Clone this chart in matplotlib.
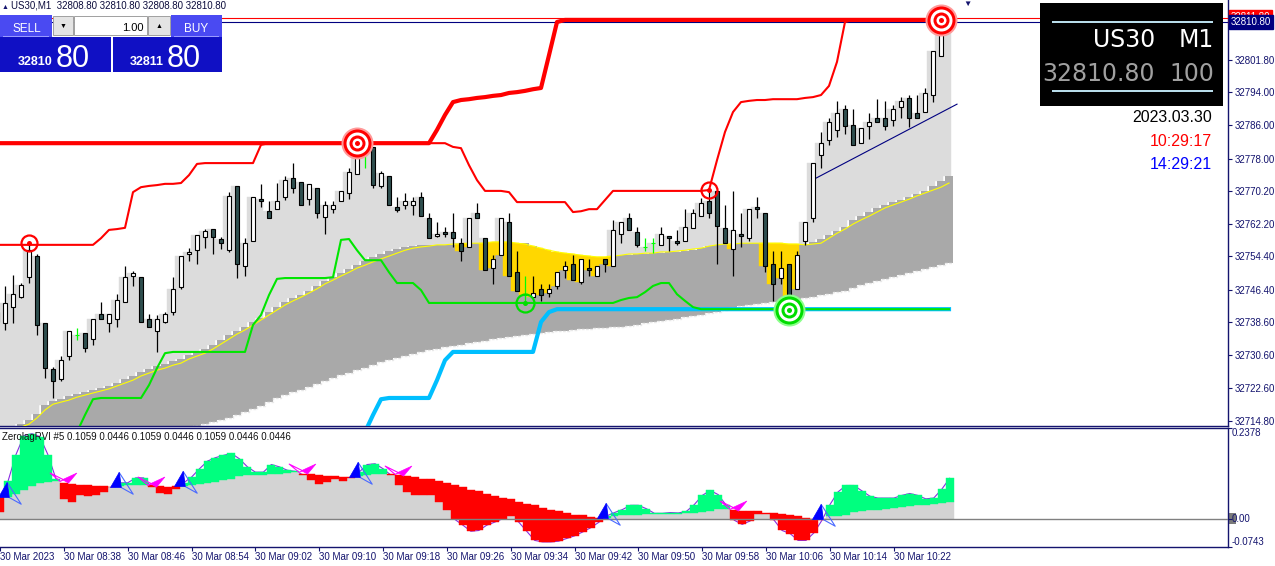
import numpy as np
import matplotlib
matplotlib.use('Agg')
import matplotlib.pyplot as plt
from matplotlib.patches import Rectangle
from matplotlib.path import Path
from matplotlib.markers import MarkerStyle
from matplotlib.transforms import blended_transform_factory

plt.rcParams['font.family'] = ['Liberation Sans', 'DejaVu Sans']

# ---- US30 M1, 30 Mar 2023, one bar per minute from 08:30 to 10:29 ----
time_labels = ['30 Mar 2023', '30 Mar 08:38', '30 Mar 08:46', '30 Mar 08:54', '30 Mar 09:02',
               '30 Mar 09:10', '30 Mar 09:18', '30 Mar 09:26', '30 Mar 09:34', '30 Mar 09:42',
               '30 Mar 09:50', '30 Mar 09:58', '30 Mar 10:06', '30 Mar 10:14', '30 Mar 10:22']
tick_bars = [0, 8, 16, 24, 32, 40, 48, 56, 64, 72, 80, 88, 96, 104, 112]

opens = [
    32741.0, 32738.3, 32742.3, 32744.7, 32749.4, 32754.5, 32738.3, 32727.3, 32724.8, 32730.3,
    32735.5, 32735.9, 32734.5, 32740.6, 32738.3, 32739.3, 32743.4, 32749.8, 32749.4, 32739.3,
    32736.4, 32738.7, 32740.9, 32747.0, 32754.9, 32755.9, 32759.0, 32761.0, 32758.6, 32755.9,
    32771.3, 32752.1, 32758.1, 32768.2, 32765.4, 32765.8, 32768.7, 32773.3, 32772.3, 32768.2,
    32770.8, 32764.0, 32765.8, 32767.7, 32769.6, 32774.2, 32779.6, 32780.7, 32771.3, 32773.7,
    32766.3, 32766.8, 32766.8, 32768.8, 32763.6, 32759.3, 32760.2, 32760.2, 32757.6, 32756.6,
    32764.8, 32758.8, 32751.6, 32754.7, 32762.7, 32750.6, 32745.0, 32744.6, 32746.5, 32745.6,
    32747.2, 32751.1, 32752.5, 32748.2, 32751.6, 32749.6, 32753.7, 32752.1, 32759.8, 32763.6,
    32760.2, 32756.7, 32757.6, 32757.1, 32759.3, 32758.1, 32758.1, 32761.2, 32764.1, 32767.7,
    32770.1, 32761.2, 32756.2, 32759.8, 32758.8, 32766.3, 32764.8, 32752.5, 32749.2, 32752.5,
    32746.5, 32758.1, 32763.6, 32778.8, 32782.5, 32784.9, 32789.9, 32786.2, 32781.7, 32785.8,
    32787.7, 32787.7, 32787.2, 32790.4, 32792.7, 32788.9, 32789.3, 32793.2, 32802.8, 32808.8]
highs = [
    32743.5, 32747.2, 32750.0, 32748.0, 32757.6, 32755.0, 32738.3, 32727.7, 32730.3, 32736.4,
    32737.2, 32735.9, 32739.3, 32743.4, 32740.5, 32745.3, 32752.1, 32751.0, 32749.4, 32740.6,
    32740.3, 32741.1, 32749.4, 32754.5, 32756.4, 32759.5, 32761.1, 32761.0, 32759.0, 32770.0,
    32771.3, 32758.8, 32768.7, 32771.9, 32767.8, 32772.1, 32773.8, 32777.0, 32772.3, 32771.8,
    32770.8, 32767.7, 32767.7, 32770.1, 32775.8, 32781.7, 32780.1, 32780.7, 32775.1, 32773.7,
    32768.8, 32769.6, 32768.7, 32770.0, 32764.8, 32762.7, 32761.6, 32764.8, 32758.8, 32763.6,
    32767.2, 32758.8, 32754.7, 32763.6, 32764.8, 32755.7, 32749.7, 32749.8, 32747.7, 32747.7,
    32750.6, 32753.3, 32754.7, 32753.7, 32753.7, 32752.1, 32753.7, 32763.1, 32762.7, 32764.8,
    32761.6, 32758.8, 32758.8, 32761.6, 32759.3, 32760.7, 32765.8, 32765.8, 32768.4, 32770.4,
    32770.1, 32766.8, 32770.1, 32764.8, 32765.8, 32768.7, 32764.8, 32755.7, 32755.7, 32752.5,
    32755.7, 32762.7, 32776.9, 32784.4, 32787.7, 32791.9, 32790.9, 32789.9, 32785.4, 32788.9,
    32792.4, 32791.9, 32790.9, 32792.9, 32793.3, 32793.3, 32794.9, 32803.9, 32811.4, 32810.8]
lows = [
    32738.0, 32736.7, 32738.3, 32744.3, 32748.0, 32735.4, 32725.1, 32720.3, 32724.3, 32729.5,
    32734.3, 32731.3, 32733.1, 32739.3, 32736.3, 32737.3, 32743.4, 32747.4, 32738.7, 32737.4,
    32731.3, 32738.3, 32740.3, 32746.5, 32753.4, 32752.5, 32756.4, 32754.9, 32756.2, 32755.4,
    32749.1, 32749.6, 32758.1, 32766.3, 32763.6, 32765.8, 32768.0, 32769.6, 32766.8, 32766.8,
    32763.6, 32759.8, 32764.8, 32767.7, 32768.2, 32774.2, 32775.7, 32770.8, 32770.8, 32766.8,
    32765.1, 32765.8, 32764.4, 32764.2, 32758.8, 32759.0, 32759.2, 32756.6, 32753.2, 32756.6,
    32763.6, 32751.1, 32747.7, 32754.7, 32749.6, 32746.0, 32743.2, 32744.6, 32743.6, 32744.6,
    32746.5, 32749.2, 32748.7, 32747.7, 32749.6, 32749.6, 32750.6, 32752.1, 32757.6, 32760.7,
    32756.6, 32755.7, 32755.2, 32757.1, 32755.7, 32757.1, 32758.1, 32761.2, 32764.1, 32763.6,
    32752.5, 32757.6, 32749.6, 32756.6, 32758.1, 32763.6, 32750.6, 32743.6, 32747.7, 32741.5,
    32746.5, 32757.1, 32762.7, 32775.6, 32781.2, 32783.3, 32783.8, 32781.2, 32781.7, 32782.8,
    32786.7, 32784.9, 32785.8, 32787.7, 32785.7, 32787.7, 32789.3, 32791.7, 32802.8, 32808.8]
closes = [
    32738.5, 32743.1, 32745.3, 32747.6, 32756.0, 32737.8, 32727.6, 32724.4, 32729.5, 32736.4,
    32735.5, 32732.3, 32739.3, 32739.3, 32740.5, 32743.9, 32749.4, 32750.4, 32738.7, 32737.4,
    32739.3, 32740.5, 32746.5, 32754.5, 32755.4, 32759.5, 32760.5, 32759.0, 32757.6, 32768.9,
    32752.5, 32757.6, 32768.7, 32767.7, 32763.6, 32767.7, 32772.8, 32770.8, 32766.8, 32771.8,
    32764.8, 32766.8, 32766.8, 32770.1, 32774.7, 32780.2, 32779.6, 32771.7, 32774.6, 32766.8,
    32765.6, 32767.7, 32767.7, 32764.2, 32758.8, 32759.8, 32759.8, 32758.8, 32755.7, 32763.6,
    32763.6, 32751.1, 32753.7, 32763.6, 32749.6, 32746.0, 32745.0, 32745.6, 32745.1, 32746.5,
    32750.6, 32752.1, 32748.7, 32753.7, 32751.1, 32752.1, 32752.5, 32760.7, 32762.7, 32760.7,
    32757.1, 32756.7, 32757.6, 32759.8, 32758.8, 32757.6, 32761.6, 32764.8, 32767.2, 32764.8,
    32761.7, 32757.6, 32760.7, 32759.3, 32765.8, 32765.8, 32752.1, 32747.7, 32751.6, 32744.6,
    32754.7, 32762.7, 32776.9, 32781.7, 32786.7, 32788.9, 32785.8, 32781.2, 32785.4, 32786.7,
    32786.7, 32785.8, 32789.9, 32791.9, 32787.7, 32787.7, 32793.7, 32803.9, 32807.9, 32810.8]

# stepped cloud: upper edge, lower edge, and the yellow average
band_top = [
    32710.2, 32710.2, 32710.2, 32714.0, 32715.0, 32716.4, 32718.6, 32719.6, 32720.0, 32720.8,
    32721.2, 32721.7, 32722.2, 32722.7, 32723.2, 32723.9, 32724.9, 32725.6, 32726.5, 32727.3,
    32728.0, 32728.5, 32729.2, 32729.7, 32730.6, 32731.4, 32732.1, 32733.1, 32734.3, 32735.5,
    32736.4, 32737.4, 32738.6, 32739.6, 32741.0, 32742.2, 32743.4, 32744.4, 32745.1, 32746.1,
    32747.3, 32748.5, 32749.4, 32750.4, 32751.4, 32752.3, 32753.3, 32754.3, 32755.0, 32755.7,
    32756.2, 32756.7, 32756.9, 32757.2, 32757.2, 32757.2, 32757.2, 32757.2, 32757.2, 32757.6,
    32757.6, 32757.6, 32757.6, 32757.6, 32757.6, 32757.6, 32757.6, 32756.9, 32756.2, 32755.5,
    32755.0, 32754.7, 32754.5, 32754.3, 32754.3, 32754.3, 32754.3, 32754.5, 32754.7, 32754.7,
    32755.0, 32755.0, 32755.2, 32755.2, 32755.5, 32755.5, 32755.7, 32755.9, 32756.4, 32756.9,
    32757.2, 32757.4, 32757.4, 32757.6, 32757.6, 32757.6, 32757.6, 32757.6, 32757.4, 32757.4,
    32757.2, 32757.2, 32757.9, 32758.6, 32759.6, 32760.5, 32761.5, 32763.2, 32764.1, 32765.1,
    32766.1, 32766.8, 32767.5, 32768.0, 32768.7, 32769.4, 32770.2, 32771.4, 32772.6, 32773.8]
band_bot = [
    32694.5, 32695.2, 32695.9, 32696.7, 32697.4, 32698.1, 32698.8, 32699.6, 32700.3, 32701.0,
    32701.7, 32702.4, 32703.4, 32704.1, 32705.1, 32705.8, 32706.5, 32707.3, 32708.0, 32709.0,
    32709.7, 32710.4, 32711.1, 32712.1, 32712.8, 32713.5, 32714.0, 32714.5, 32715.0, 32715.5,
    32716.2, 32716.9, 32717.6, 32718.4, 32719.3, 32720.3, 32721.0, 32721.7, 32722.2, 32722.9,
    32723.7, 32724.4, 32725.1, 32725.8, 32726.3, 32727.0, 32727.5, 32728.2, 32729.0, 32729.4,
    32729.9, 32730.4, 32730.9, 32731.4, 32731.8, 32732.1, 32732.6, 32732.8, 32733.1, 32733.5,
    32733.8, 32734.0, 32734.5, 32734.7, 32735.0, 32735.2, 32735.5, 32735.7, 32735.9, 32736.2,
    32736.4, 32736.4, 32736.7, 32736.9, 32736.9, 32737.2, 32737.2, 32737.4, 32737.4, 32737.6,
    32737.9, 32738.4, 32738.6, 32738.8, 32739.1, 32739.3, 32739.8, 32740.0, 32740.3, 32740.8,
    32741.0, 32741.5, 32742.0, 32742.5, 32742.7, 32742.9, 32743.2, 32743.4, 32743.7, 32743.9,
    32744.1, 32744.4, 32744.6, 32745.1, 32745.3, 32745.8, 32746.1, 32746.8, 32747.5, 32748.0,
    32748.5, 32749.0, 32749.4, 32749.9, 32750.4, 32750.9, 32751.4, 32751.9, 32752.3, 32752.8]
yellow_ma = [
    32710.2, 32710.2, 32710.2, 32713.3, 32714.0, 32715.5, 32717.4, 32718.8, 32719.3, 32719.8,
    32720.5, 32721.0, 32721.5, 32722.0, 32722.5, 32723.2, 32723.9, 32724.6, 32725.6, 32726.3,
    32727.0, 32727.5, 32728.2, 32728.7, 32729.7, 32730.4, 32731.1, 32732.1, 32733.3, 32734.5,
    32735.7, 32736.7, 32737.9, 32739.1, 32740.3, 32741.5, 32742.7, 32743.7, 32744.6, 32745.6,
    32746.6, 32747.8, 32748.7, 32749.7, 32750.6, 32751.6, 32752.3, 32753.1, 32753.8, 32754.5,
    32755.2, 32755.9, 32756.4, 32756.7, 32756.9, 32757.2, 32757.2, 32757.4, 32757.4, 32757.6,
    32757.6, 32757.6, 32757.9, 32757.9, 32757.9, 32757.6, 32757.4, 32756.9, 32756.4, 32755.9,
    32755.5, 32755.2, 32755.0, 32754.7, 32754.5, 32754.3, 32754.3, 32754.5, 32754.7, 32755.0,
    32755.0, 32755.2, 32755.2, 32755.5, 32755.5, 32755.7, 32755.9, 32756.2, 32756.4, 32756.9,
    32757.2, 32757.4, 32757.4, 32757.6, 32757.6, 32757.6, 32757.6, 32757.6, 32757.6, 32757.4,
    32757.4, 32757.2, 32757.4, 32757.6, 32758.8, 32760.0, 32761.0, 32762.2, 32763.2, 32764.1,
    32765.1, 32766.1, 32766.8, 32767.5, 32768.2, 32769.0, 32769.7, 32770.4, 32771.1, 32772.1]

# channel lines
red_long = [
    32781.7, 32781.7, 32781.7, 32781.7, 32781.7, 32781.7, 32781.7, 32781.7, 32781.7, 32781.7,
    32781.7, 32781.7, 32781.7, 32781.7, 32781.7, 32781.7, 32781.7, 32781.7, 32781.7, 32781.7,
    32781.7, 32781.7, 32781.7, 32781.7, 32781.7, 32781.7, 32781.7, 32781.7, 32781.7, 32781.7,
    32781.7, 32781.7, 32781.7, 32781.7, 32781.7, 32781.7, 32781.7, 32781.7, 32781.7, 32781.7,
    32781.7, 32781.7, 32781.7, 32781.7, 32781.7, 32781.7, 32781.7, 32781.7, 32781.7, 32781.7,
    32781.7, 32781.7, 32781.7, 32781.7, 32781.7, 32784.9, 32788.5, 32791.6, 32792.1, 32792.3,
    32792.6, 32792.8, 32793.1, 32793.3, 32793.8, 32794.0, 32794.3, 32794.7, 32795.0, 32802.9,
    32810.9, 32811.4, 32811.4, 32811.4, 32811.4, 32811.4, 32811.4, 32811.4, 32811.4, 32811.4,
    32811.4, 32811.4, 32811.4, 32811.4, 32811.4, 32811.4, 32811.4, 32811.4, 32811.4, 32811.4,
    32811.4, 32811.4, 32811.4, 32811.4, 32811.4, 32811.4, 32811.4, 32811.4, 32811.4, 32811.4,
    32811.4, 32811.4, 32811.4, 32811.4, 32811.4, 32811.4, 32811.4, 32811.4, 32811.4, 32811.4,
    32811.4, 32811.4, 32811.4, 32811.4, 32811.4, 32811.4, 32811.4, 32811.4, 32811.4, 32811.4]
red_short = [
    32757.2, 32757.2, 32757.2, 32757.2, 32757.2, 32757.2, 32757.2, 32757.2, 32757.2, 32757.2,
    32757.2, 32757.2, 32757.2, 32758.8, 32760.8, 32761.0, 32761.3, 32769.9, 32771.1, 32771.4,
    32771.6, 32771.9, 32771.9, 32772.1, 32774.0, 32776.7, 32776.9, 32776.9, 32776.9, 32776.9,
    32776.9, 32776.9, 32776.9, 32781.3, 32781.7, 32781.7, 32781.7, 32781.7, 32781.7, 32781.7,
    32781.7, 32781.7, 32781.7, 32781.7, 32781.7, 32781.7, 32781.7, 32781.7, 32781.7, 32781.7,
    32781.7, 32781.7, 32781.7, 32781.7, 32781.7, 32781.7, 32781.7, 32780.8, 32780.5, 32776.4,
    32772.8, 32770.2, 32770.2, 32770.2, 32769.9, 32767.5, 32767.5, 32767.5, 32767.5, 32767.5,
    32767.5, 32767.5, 32765.1, 32765.3, 32765.8, 32765.8, 32768.0, 32770.2, 32770.2, 32770.2,
    32770.2, 32770.2, 32770.2, 32770.2, 32770.2, 32770.2, 32770.2, 32770.2, 32770.2, 32770.4,
    32777.6, 32784.4, 32789.2, 32791.6, 32791.9, 32792.1, 32792.1, 32792.3, 32792.3, 32792.3,
    32792.3, 32792.6, 32792.8, 32793.3, 32795.5, 32801.3, 32810.9, 32811.4, 32811.4, 32811.4,
    32811.4, 32811.4, 32811.4, 32811.4, 32811.4, 32811.4, 32811.4, 32811.4, 32811.4, 32811.4]
green_low = [
    32705.0, 32705.0, 32705.0, 32705.0, 32705.0, 32705.0, 32705.0, 32705.0, 32705.0, 32705.0,
    32712.1, 32716.2, 32720.0, 32720.3, 32720.3, 32720.3, 32720.3, 32720.3, 32720.3, 32723.4,
    32727.5, 32731.1, 32731.4, 32731.4, 32731.4, 32731.4, 32731.4, 32731.4, 32731.4, 32731.4,
    32731.4, 32731.4, 32737.9, 32740.3, 32745.1, 32749.0, 32749.2, 32749.2, 32749.2, 32749.2,
    32749.2, 32749.2, 32749.4, 32758.4, 32758.6, 32755.9, 32753.5, 32753.5, 32753.5, 32750.6,
    32748.0, 32748.0, 32748.0, 32746.3, 32743.2, 32743.2, 32743.2, 32743.2, 32743.2, 32743.2,
    32743.2, 32743.2, 32743.2, 32743.2, 32743.2, 32743.2, 32743.2, 32743.2, 32743.2, 32743.2,
    32743.2, 32743.2, 32743.2, 32743.2, 32743.2, 32743.2, 32743.2, 32743.2, 32743.9, 32744.4,
    32744.6, 32745.8, 32747.3, 32748.0, 32748.0, 32745.3, 32743.7, 32742.2, 32741.7, 32741.7,
    32741.7, 32741.7, 32741.7, 32741.7, 32741.7, 32741.7, 32741.7, 32741.7, 32741.7, 32741.7,
    32741.7, 32741.7, 32741.7, 32741.7, 32741.7, 32741.7, 32741.7, 32741.7, 32741.7, 32741.7,
    32741.7, 32741.7, 32741.7, 32741.7, 32741.7, 32741.7, 32741.7, 32741.7, 32741.7, 32741.7]
blue_low = [
    32705.0, 32705.0, 32705.0, 32705.0, 32705.0, 32705.0, 32705.0, 32705.0, 32705.0, 32705.0,
    32705.0, 32705.0, 32705.0, 32705.0, 32705.0, 32705.0, 32705.0, 32705.0, 32705.0, 32705.0,
    32705.0, 32705.0, 32705.0, 32705.0, 32705.0, 32705.0, 32705.0, 32705.0, 32705.0, 32705.0,
    32705.0, 32705.0, 32705.0, 32705.0, 32705.0, 32705.0, 32705.0, 32705.0, 32705.0, 32705.0,
    32705.0, 32705.0, 32705.0, 32705.0, 32705.0, 32705.0, 32712.1, 32716.2, 32720.0, 32720.3,
    32720.3, 32720.3, 32720.3, 32720.3, 32720.3, 32724.6, 32729.4, 32731.4, 32731.4, 32731.4,
    32731.4, 32731.4, 32731.4, 32731.4, 32731.4, 32731.4, 32731.4, 32731.4, 32738.6, 32741.0,
    32741.7, 32741.7, 32741.7, 32741.7, 32741.7, 32741.7, 32741.7, 32741.7, 32741.7, 32741.7,
    32741.7, 32741.7, 32741.7, 32741.7, 32741.7, 32741.7, 32741.7, 32741.7, 32741.7, 32741.7,
    32741.7, 32741.7, 32741.7, 32741.7, 32741.7, 32741.7, 32741.7, 32741.7, 32741.7, 32741.7,
    32741.7, 32741.7, 32741.7, 32741.7, 32741.7, 32741.7, 32741.7, 32741.7, 32741.7, 32741.7,
    32741.7, 32741.7, 32741.7, 32741.7, 32741.7, 32741.7, 32741.7, 32741.7, 32741.7, 32741.7]

# drawn trend line (bar, price) and bid / ask
trend_bars = [102.4, 120.0]
trend_prices = [32773.3, 32791.1]
bid, ask = 32810.80, 32811.80
price_ticks = [32714.8, 32722.6, 32730.6, 32738.6, 32746.4, 32754.4, 32762.2,
               32770.2, 32778.0, 32786.0, 32794.0, 32801.8]

# signal targets: bar indices (red on highs, green on lows)
red_big, red_small = [45, 118], [4, 89]
green_big, green_small = [99], [66]

# ZerolagRVI subwindow
rvi = [
    0.017, 0.098, 0.168, 0.218, 0.223, 0.215, 0.168, 0.105, 0.052, 0.044,
    0.061, 0.059, 0.063, 0.070, 0.082, 0.094, 0.094, 0.107, 0.107, 0.083,
    0.067, 0.064, 0.079, 0.094, 0.109, 0.131, 0.151, 0.160, 0.166, 0.171,
    0.157, 0.136, 0.122, 0.122, 0.142, 0.136, 0.127, 0.124, 0.115, 0.101,
    0.092, 0.096, 0.105, 0.099, 0.107, 0.122, 0.142, 0.144, 0.131, 0.114,
    0.089, 0.070, 0.061, 0.061, 0.061, 0.044, 0.022, -0.002, -0.017, -0.033,
    -0.031, -0.017, -0.009, 0.000, 0.007, -0.009, -0.033, -0.057, -0.061, -0.061,
    -0.059, -0.052, -0.045, -0.035, -0.024, -0.010, 0.007, 0.016, 0.024, 0.035,
    0.035, 0.026, 0.014, 0.014, 0.016, 0.015, 0.019, 0.037, 0.061, 0.074,
    0.063, 0.035, -0.004, -0.015, -0.006, 0.013, 0.013, -0.004, -0.031, -0.039,
    -0.057, -0.057, -0.037, -0.004, 0.037, 0.070, 0.087, 0.087, 0.073, 0.059,
    0.054, 0.054, 0.054, 0.061, 0.066, 0.061, 0.052, 0.054, 0.077, 0.1059]
signal = [
    0.057, 0.057, 0.064, 0.074, 0.085, 0.094, 0.096, 0.098, 0.094, 0.092,
    0.089, 0.087, 0.086, 0.085, 0.084, 0.086, 0.087, 0.087, 0.087, 0.087,
    0.086, 0.084, 0.085, 0.085, 0.089, 0.092, 0.094, 0.096, 0.101, 0.105,
    0.111, 0.114, 0.115, 0.115, 0.116, 0.118, 0.120, 0.122, 0.118, 0.116,
    0.114, 0.112, 0.112, 0.109, 0.109, 0.111, 0.114, 0.116, 0.118, 0.117,
    0.114, 0.111, 0.109, 0.105, 0.105, 0.098, 0.094, 0.089, 0.083, 0.074,
    0.072, 0.066, 0.059, 0.054, 0.051, 0.045, 0.039, 0.035, 0.028, 0.024,
    0.019, 0.016, 0.010, 0.009, 0.004, 0.003, 0.003, 0.007, 0.010, 0.010,
    0.010, 0.012, 0.012, 0.012, 0.013, 0.013, 0.015, 0.016, 0.017, 0.021,
    0.026, 0.026, 0.022, 0.021, 0.019, 0.019, 0.016, 0.016, 0.013, 0.010,
    0.007, 0.002, 0.000, 0.000, 0.007, 0.007, 0.010, 0.017, 0.019, 0.022,
    0.024, 0.026, 0.028, 0.031, 0.033, 0.035, 0.037, 0.038, 0.041, 0.0446]
cross_up = [0, 14, 22, 44, 75, 102]
cross_down = [7, 18, 37, 49, 91]

W, H = 1275, 566
NAVY = '#14146e'

bars = np.arange(len(opens))
o, h, l, c = (np.array(v) for v in (opens, highs, lows, closes))
b_top, b_bot, ma = np.array(band_top), np.array(band_bot), np.array(yellow_ma)
r, s = np.array(rvi), np.array(signal)

fig = plt.figure(figsize=(W / 100, H / 100), dpi=100)
fig.patch.set_facecolor('white')
ax = fig.add_axes([0, 1 - 425.5 / H, 1228 / W, 425.5 / H])
sub = fig.add_axes([0, 1 - 547 / H, 1228 / W, 119 / H])

top = np.maximum(o, c)
bot = np.minimum(o, c)

# light grey histogram from candle body down to the cloud
m = top > b_top
ax.bar(bars[m] - 0.2, (top - b_top)[m], bottom=b_top[m], width=1.0, color='#dcdcdc',
       ec='#dcdcdc', lw=0.3, zorder=1)
# dark cloud as one stepped polygon (no seams between bars)
xe = np.column_stack([bars - 0.5, bars + 0.5]).ravel()
ax.fill_between(xe, np.repeat(b_bot, 2), np.repeat(b_top, 2), color='#a9a9a9', lw=0, zorder=2)
ax.plot(xe, np.repeat(b_bot, 2), color='#e8e8e8', lw=1, ls=(0, (2, 1)), zorder=2.1)
# gold where price sits under the average
g = bot < ma
ax.bar(bars[g] - 0.2, (ma - bot)[g], bottom=bot[g], width=1.0, color='#ffd700',
       ec='#ffd700', lw=0.3, zorder=3)
ax.plot(bars, ma, color='#ffff00', lw=0.8, zorder=3.5)

ax.axhline(ask, color='#ff0000', lw=0.8, zorder=3.6)
ax.axhline(bid, color='#000080', lw=0.8, zorder=3.6)
ax.plot(bars, blue_low, color='#00bfff', lw=3.0, zorder=4)
ax.plot(bars, green_low, color='#00e600', lw=1.5, zorder=4)
ax.plot(bars, red_short, color='#ff0000', lw=1.5, zorder=4)
ax.plot(bars, red_long, color='#ff0000', lw=3.0, zorder=4)
ax.plot(trend_bars, trend_prices, color='#000080', lw=0.8, zorder=4)

# candles
doji = o == c
bull = c > o
wick_cols = ['#00ff00' if d else 'black' for d in doji]
ax.vlines(bars, l, h, colors=wick_cols, lw=0.9, zorder=5)
body_cols = np.where(bull, 'white', '#2f4f4f')
nd = ~doji
ax.bar(bars[nd], np.abs(c - o)[nd], bottom=bot[nd], width=0.62, color=list(body_cols[nd]),
       edgecolor='black', lw=0.8, zorder=6)
ax.hlines(o[doji], bars[doji] - 0.3, bars[doji] + 0.3, colors='#00ff00', lw=0.8, zorder=6)


def target(x, y, col, halo, sizes):
    ax.plot(x, y, 'o', ms=sizes[0] * 0.72, mfc=halo, mec='none', zorder=7)
    for k, d in enumerate(sizes[1:]):
        ax.plot(x, y, 'o', ms=d * 0.72, mfc=col if k % 2 == 0 else 'white', mec='none', zorder=7)


def ring(x, y, col, d):
    ax.plot(x, y, 'o', ms=d * 0.72, mfc='none', mec=col, mew=1.6, zorder=7)
    ax.plot(x, y, 'o', ms=5 * 0.72, mfc=col, mec='none', zorder=7)


for i in red_big:
    target(i, h[i], '#ff0000', '#ff9a9a', [32, 28, 22, 16, 10, 5])
for i in red_small:
    ring(i, h[i], '#ff0000', 16)
for i in green_big:
    target(i, l[i], '#00dd00', '#8cff8c', [32, 28, 22, 16, 10, 5])
for i in green_small:
    ring(i, l[i], '#00dd00', 18)

ax.set_xlim(0.375, 153.875)
ax.set_ylim(32713.67, 32816.2)
ax.yaxis.tick_right()
ax.set_yticks(price_ticks)
ax.set_yticklabels([f'{v:.2f}' for v in price_ticks])
ax.tick_params(axis='y', direction='out', length=3, width=0.8, color=NAVY, labelcolor=NAVY,
               labelsize=7, pad=1.5)
ax.set_xticks([])
for sp in ['left', 'top']:
    ax.spines[sp].set_visible(False)
for sp in ['right', 'bottom']:
    ax.spines[sp].set_color(NAVY)
    ax.spines[sp].set_linewidth(1.0)

tr = blended_transform_factory(ax.transAxes, ax.transData)
ax.text(1231 / 1228, ask + 0.4, f'{ask:.2f}', transform=tr, ha='left', va='center', fontsize=7,
        color='white', bbox=dict(boxstyle='square,pad=0.2', fc='#ff0000', ec='#ff0000'), zorder=8)
ax.text(1231 / 1228, bid, f'{bid:.2f}', transform=tr, ha='left', va='center', fontsize=7,
        color='white', bbox=dict(boxstyle='square,pad=0.2', fc='#000080', ec='#000080'), zorder=9)

# ---- subwindow ----
lo = np.minimum(r, s)
gm = lo > 0
sub.bar(bars[gm], lo[gm], width=1.0, color='#d3d3d3', ec='#d3d3d3', lw=0.3, zorder=2)
up = r > s
sub.bar(bars[up], (r - s)[up], bottom=s[up], width=1.0, color='#00ff7f', ec='#00ff7f', lw=0.3, zorder=2)
dn = r < s
sub.bar(bars[dn], (s - r)[dn], bottom=r[dn], width=1.0, color='#ff0000', ec='#ff0000', lw=0.3, zorder=2)
sub.plot(bars, r, color='#8a2be2', lw=0.8, zorder=1)
sub.axhline(0, color='#808080', lw=1.0, zorder=3)


def dart(verts):
    codes = [Path.MOVETO] + [Path.LINETO] * (len(verts) - 1) + [Path.CLOSEPOLY]
    p = Path(list(verts) + [verts[0]], codes)
    size = 2 * np.max(np.abs(verts)) * 0.72
    return MarkerStyle(p), size


up_fill, up_fill_ms = dart([(6.7, 15), (-2, 0), (8.7, 0)])
up_line, up_line_ms = dart([(6.7, 15), (20.7, -6.7), (8.7, 0)])
dn_fill, dn_fill_ms = dart([(6, 1.8), (20.3, 8.4), (12, -1.6)])
dn_line, dn_line_ms = dart([(-6.3, 8.4), (7, 1.8), (3.7, 0.1)])
sub.plot(cross_up, s[cross_up], ls='none', marker=up_line, ms=up_line_ms, mfc='none', mec='#4a6aff', mew=0.8, zorder=4)
sub.plot(cross_up, s[cross_up], ls='none', marker=up_fill, ms=up_fill_ms, mfc='#0000ff', mec='#0000ff', mew=0.5, zorder=5)
sub.plot(cross_down, s[cross_down], ls='none', marker=dn_line, ms=dn_line_ms, mfc='none', mec='#ff00ff', mew=0.8, zorder=4)
sub.plot(cross_down, s[cross_down], ls='none', marker=dn_fill, ms=dn_fill_ms, mfc='#ff00ff', mec='#ff00ff', mew=0.5, zorder=5)

sub.set_xlim(0.375, 153.875)
sub.set_ylim(-0.0743, 0.2378)
sub.yaxis.tick_right()
sub.set_yticks([-0.0743, 0.0, 0.2378])
sub.set_yticklabels(['', '', ''])
sub.tick_params(axis='y', direction='out', length=3, width=0.8, color=NAVY)
sub.set_xticks(tick_bars)
sub.set_xticklabels(time_labels, ha='left')
sub.tick_params(axis='x', direction='out', length=3, width=0.8, color=NAVY, labelcolor=NAVY,
                labelsize=7, pad=0.5)
sub.spines['left'].set_visible(False)
for sp in ['right', 'bottom', 'top']:
    sub.spines[sp].set_color(NAVY)
    sub.spines[sp].set_linewidth(1.0)
str_ = blended_transform_factory(sub.transAxes, sub.transData)
sub.text(1232 / 1228, 0.2378, '0.2378', transform=str_, ha='left', va='top', fontsize=7, color=NAVY)
sub.text(1232 / 1228, 0.0, '0.00', transform=str_, ha='left', va='center', fontsize=7, color=NAVY)
sub.text(1232 / 1228, -0.0743, '-0.0743', transform=str_, ha='left', va='bottom', fontsize=7, color=NAVY)


# ---- terminal overlays (pixel placed) ----
def box(x0, y0, x1, y1, **kw):
    fig.add_artist(Rectangle((x0 / W, 1 - y1 / H), (x1 - x0) / W, (y1 - y0) / H,
                             transform=fig.transFigure, **kw))


def label(x, y, txt, **kw):
    fig.text(x / W, 1 - y / H, txt, **kw)


box(1229, 513, 1236, 524, fc='#7a7a7a', ec='none', zorder=-1)

label(2, 9, '▲', fontsize=5, color=NAVY, va='baseline')
label(11, 9, 'US30,M1  32808.80 32810.80 32808.80 32810.80', fontsize=7, color='#0c0c3c', va='baseline')
label(2, 440, 'ZerolagRVI #5 0.1059 0.0446 0.1059 0.0446 0.1059 0.0446 0.0446', fontsize=7,
      color='#111111', va='baseline')

# one-click trading panel
box(0, 15, 52, 37, fc='#4a4af2', ec='none')
box(171, 15, 222, 37, fc='#4a4af2', ec='none')
box(3, 36.2, 49, 37, fc='#9a9aff', ec='none')
box(174, 36.2, 219, 37, fc='#9a9aff', ec='none')
label(27, 32, 'SELL', fontsize=8.5, color='white', ha='center', va='baseline')
label(196, 32, 'BUY', fontsize=8.5, color='white', ha='center', va='baseline')
box(53, 16, 73, 35, fc='#e4e4e4', ec='#a0a0a0', lw=0.7)
box(74, 16, 147, 35, fc='white', ec='#a0a0a0', lw=0.7)
box(148, 16, 170, 35, fc='#e4e4e4', ec='#a0a0a0', lw=0.7)
label(63, 26, '▼', fontsize=5, color='black', ha='center', va='center')
label(159, 26, '▲', fontsize=5, color='black', ha='center', va='center')
label(144, 31, '1.00', fontsize=8, color='black', ha='right', va='baseline')
box(0, 37, 111, 72, fc='#1010c4', ec='none')
box(113, 37, 222, 72, fc='#1010c4', ec='none')
label(53, 65, '32810', fontsize=9, weight='bold', color='white', ha='right', va='baseline')
label(56, 67, '80', fontsize=22, color='white', ha='left', va='baseline')
label(164, 65, '32811', fontsize=9, weight='bold', color='white', ha='right', va='baseline')
label(167, 67, '80', fontsize=22, color='white', ha='left', va='baseline')

# symbol box at the top right
box(1040, 3, 1223, 106, fc='black', ec='none')
box(1052, 21.3, 1213, 22.5, fc='#b8dcea', ec='none')
box(1052, 90.5, 1213, 91.7, fc='#b8dcea', ec='none')
label(1155, 47, 'US30', fontsize=17, family='DejaVu Sans', color='white', ha='right', va='baseline')
label(1214, 47, 'M1', fontsize=17, family='DejaVu Sans', color='white', ha='right', va='baseline')
label(1155, 81, '32810.80', fontsize=17, family='DejaVu Sans', color='#a0a0a0', ha='right', va='baseline')
label(1214, 81, '100', fontsize=17, family='DejaVu Sans', color='#a0a0a0', ha='right', va='baseline')
label(1212, 122, '2023.03.30', fontsize=11.5, color='black', ha='right', va='baseline')
label(1212, 146, '10:29:17', fontsize=11.5, color='#ff0000', ha='right', va='baseline')
label(1212, 169, '14:29:21', fontsize=11.5, color='#0000ff', ha='right', va='baseline')
label(967, 4, '▼', fontsize=6, color=NAVY, ha='center', va='center')

fig.savefig('out.png', dpi=100)
